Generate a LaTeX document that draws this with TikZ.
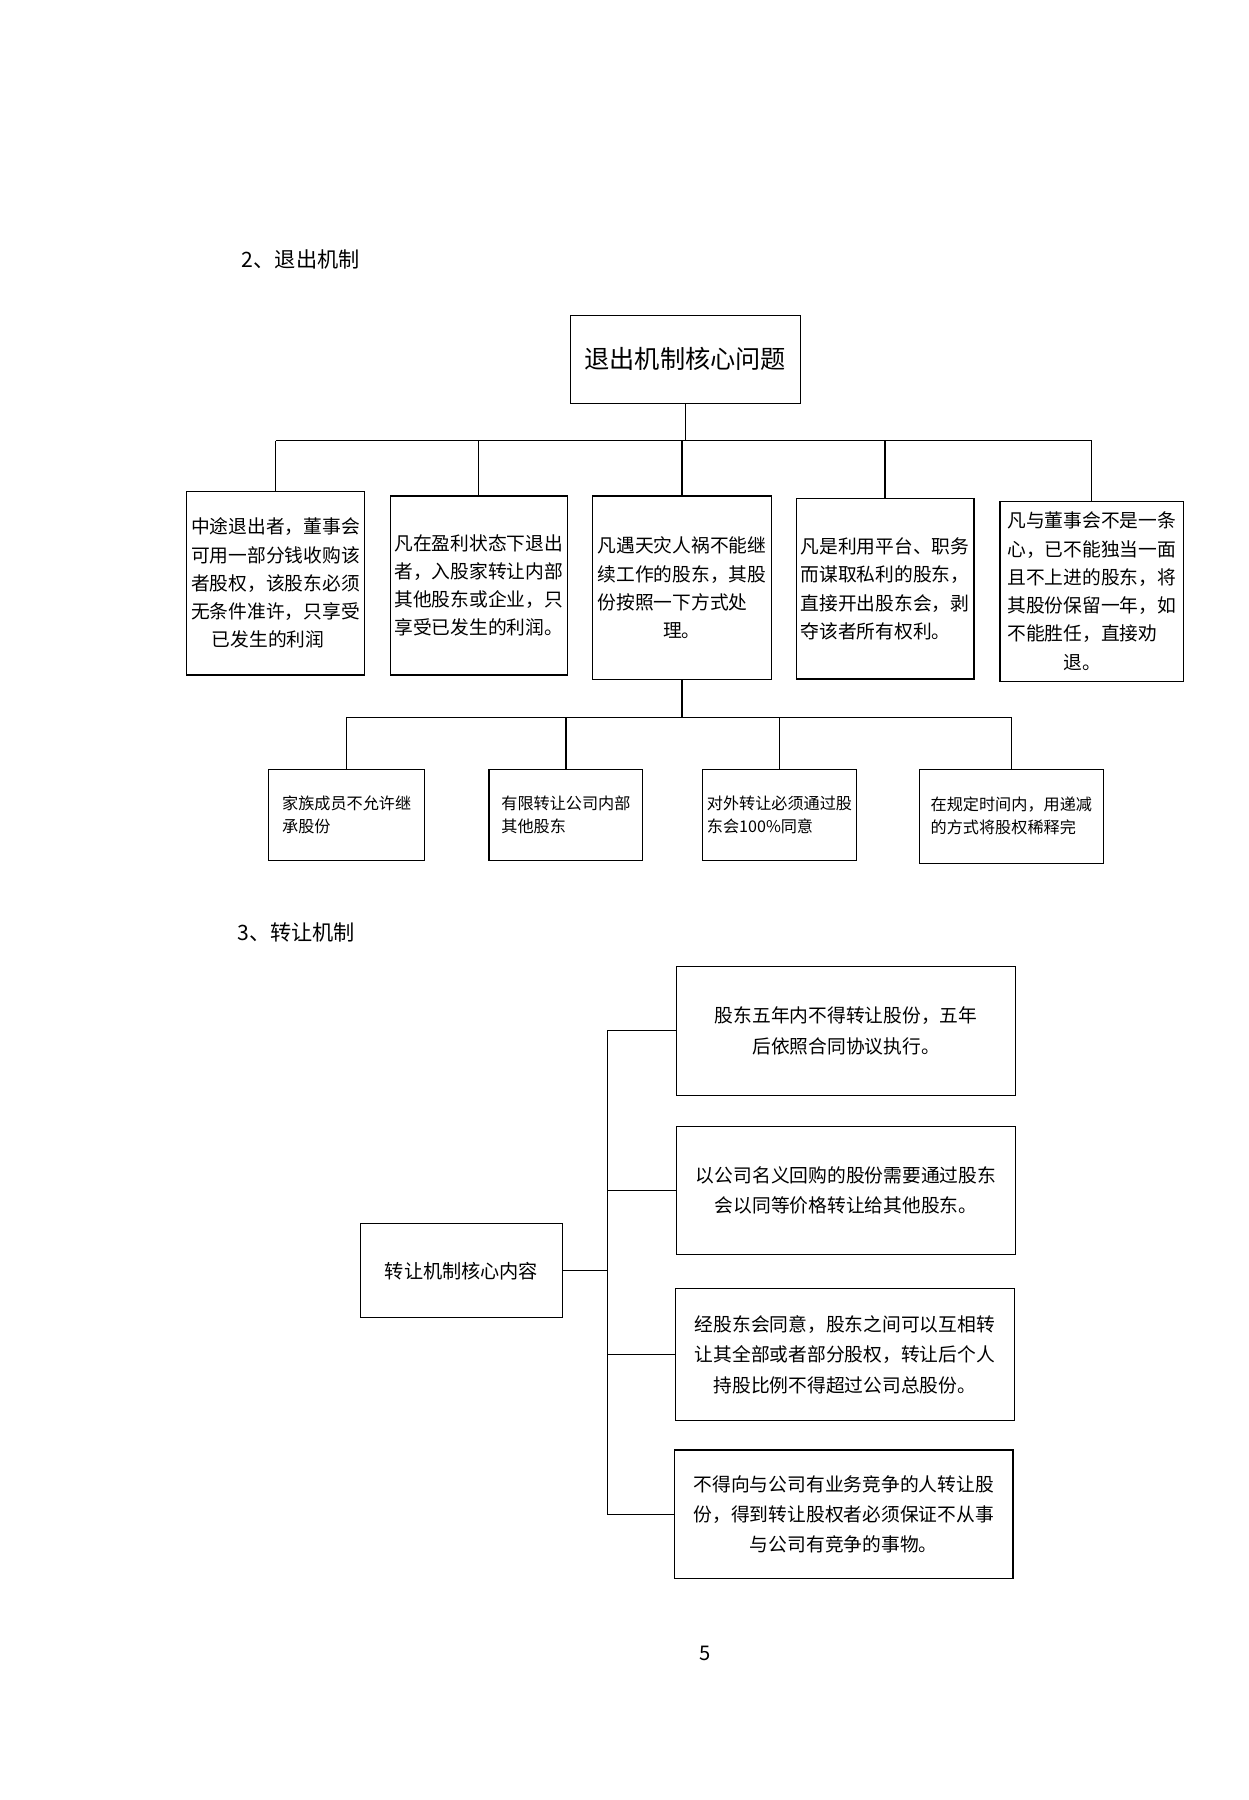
\documentclass[tikz,border=0pt]{standalone}
\usepackage{fontspec}
\setmainfont{Noto Sans CJK SC}
\usetikzlibrary{positioning}
\begin{document}
\begin{tikzpicture}[x=0.02cm,y=-0.02cm,semithick,
    box/.style={draw,inner sep=2pt,align=left,font=\fontsize{9.3}{14}\selectfont},
    small/.style={draw,inner sep=2pt,align=left,font=\fontsize{8}{11.5}\selectfont},
    wide/.style={draw,inner sep=2pt,align=center,font=\fontsize{9.3}{15}\selectfont,
                 minimum width=5.9cm,minimum height=2.24cm},
    head/.style={font=\fontsize{10.5}{12}\selectfont}]
  \useasboundingbox (0,0) rectangle (1088,1568);

  \node[head] (h2) at (262,226) {2、退出机制};
  \node[draw,minimum width=4cm,minimum height=1.54cm,
        font=\fontsize{12.5}{14}\selectfont] (core) at (597,313) {退出机制核心问题};

  \node[box,minimum width=3.1cm,minimum height=3.2cm] (b1) at (240,508)
    {中途退出者，董事会\\可用一部分钱收购该\\者股权，该股东必须\\无条件准许，只享受\\\hspace*{1.1em}已发生的利润};
  \node[box,minimum width=3.08cm,minimum height=3.12cm] (b2) at (417,510)
    {凡在盈利状态下退出\\者，入股家转让内部\\其他股东或企业，只\\享受已发生的利润。};
  \node[box,minimum width=3.12cm,minimum height=3.2cm] (b3) at (594,512)
    {凡遇天灾人祸不能继\\续工作的股东，其股\\份按照一下方式处\\\hspace*{3.5em}理。};
  \node[box,minimum width=3.1cm,minimum height=3.14cm] (b4) at (771,513)
    {凡是利用平台、职务\\而谋取私利的股东，\\直接开出股东会，剥\\夺该者所有权利。};
  \node[box,minimum width=3.2cm,minimum height=3.14cm] (b5) at (951,515)
    {凡与董事会不是一条\\心，已不能独当一面\\且不上进的股东，将\\其股份保留一年，如\\不能胜任，直接劝\\\hspace*{3em}退。};

  \coordinate (bus1) at (597,384);
  \draw (core) -- (bus1);
  \draw (b1.north |- bus1) -- (b5.north |- bus1);
  \foreach \n in {b1,b2,b3,b4,b5} \draw (\n.north |- bus1) -- (\n.north);

  \node[small,minimum width=2.72cm,minimum height=1.58cm] (c1) at (302,710)
    {家族成员不允许继\\承股份};
  \node[small,minimum width=2.68cm,minimum height=1.58cm] (c2) at (493,710)
    {有限转让公司内部\\其他股东};
  \node[small,minimum width=2.6cm,minimum height=1.58cm] (c3) at (679,710)
    {对外转让必须通过股\\东会100\%同意};
  \node[small,minimum width=3.2cm,minimum height=1.64cm] (c4) at (881,711)
    {在规定时间内，用递减\\的方式将股权稀释完};

  \coordinate (bus2) at (594,625);
  \draw (b3) -- (bus2);
  \draw (c1.north |- bus2) -- (c4.north |- bus2);
  \foreach \n in {c1,c2,c3,c4} \draw (\n.north |- bus2) -- (\n.north);

  \node[head] (h3) at (258,812) {3、转让机制};
  \node[draw,minimum width=3.52cm,minimum height=1.64cm,
        font=\fontsize{9.5}{12}\selectfont] (core2) at (402,1107) {转让机制核心内容};

  \node[wide] (d1) at (737,898) {股东五年内不得转让股份，五年\\后依照合同协议执行。};
  \node[wide] (d2) at (737,1037) {以公司名义回购的股份需要通过股东\\会以同等价格转让给其他股东。};
  \node[wide,minimum height=2.3cm] (d3) at (736,1180) {经股东会同意，股东之间可以互相转\\让其全部或者部分股权，转让后个人\\持股比例不得超过公司总股份。};
  \node[wide] (d4) at (735,1319) {不得向与公司有业务竞争的人转让股\\份，得到转让股权者必须保证不从事\\与公司有竞争的事物。};

  \coordinate (spine) at (529,1107);
  \draw (core2.east) -- (spine);
  \draw (spine |- d1.west) -- (spine |- d4.west);
  \foreach \n in {d1,d2,d3,d4} \draw (spine |- \n.west) -- (\n.west);

  \node[font=\fontsize{10}{12}\selectfont] (pg) at (614,1440) {5};
\end{tikzpicture}
\end{document}
